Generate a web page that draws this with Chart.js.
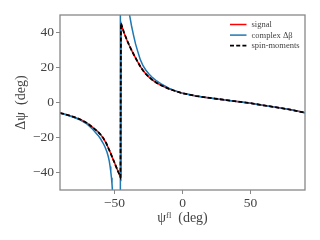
<!DOCTYPE html>
<html lang="en">
<head>
<meta charset="UTF-8">
<title>Delta psi</title>
<script src="https://cdn.jsdelivr.net/npm/chart.js"></script>
<style>
  html, body { margin: 0; padding: 0; background: #fff; }
  canvas { display: block; }
</style>
</head>
<body>
<canvas id="chart" width="320" height="240"></canvas>
<script>
// values (degrees)
const signalX = [-90, -85, -80, -75, -70, -66, -62, -60, -58, -56, -54.5, -53, -51.5, -50, -48.5, -47, -45.6,
    -45.2, -43, -41, -39, -37, -35, -33, -31, -29, -27, -25, -22, -19, -16, -13, -10, -7, -4, 0,
    10, 20, 30, 40, 50, 60, 70, 80, 90];
const signalY = [-6, -7, -8.2, -9.7, -11.8, -14.2, -16.8, -18.5, -20.6, -23.3, -26, -28.6, -31.5, -34.3, -37.2, -40, -42.6,
    45.3, 40, 36, 32.4, 29.2, 26.2, 23.3, 20.6, 18.3, 16.4, 14.8, 12.8, 11.2, 9.9, 8.8, 7.8, 7, 6.2, 5.3,
    3.7, 2.6, 1.6, 0.6, -0.4, -1.7, -2.9, -4.2, -5.8];
const momentsY = [-6, -7, -8.2, -9.7, -11.8, -14.2, -16.8, -18.5, -20.6, -23.3, -26, -28.6, -31.5, -34.3, -37.2, -40, -42.6,
    45.3, 40, 36, 32.4, 29.2, 26.2, 23.3, 20.6, 18.3, 16.4, 14.8, 12.8, 11.2, 9.9, 8.8, 7.8, 7, 6.2, 5.3,
    3.7, 2.6, 1.6, 0.6, -0.4, -1.7, -2.9, -4.2, -5.8];

// complex delta-beta: diverges near -45.7 (values beyond +-50 are off the plot)
const betaX = [-90, -85, -80, -75, -70, -66, -62, -60, -58.5, -57, -55.5, -54.5, -53.8, -53.2, -52.7, -52.2, -51.8, -51.5,
    -50.5, -49, -47.5, -46.5, -45.75, -45.65, -45, -44, -43, -42, -41, -40,
    -38.9, -37.5, -36, -34.5, -33, -31, -29, -27, -25, -22, -19, -16, -13, -10, -7, -4, 0,
    10, 20, 30, 40, 50, 60, 70, 80, 90];
const betaY = [-6, -7.1, -8.4, -10.1, -12.4, -15.3, -18.8, -21, -23, -25.3, -28.3, -31, -33.5, -36.5, -39.5, -43, -46.5, -50,
    -60, -86, -150, -300, -3000, 3000, 500, 190, 120, 90, 70, 58,
    50, 44, 38.5, 33.5, 29.5, 24.5, 21, 18.6, 16.6, 14.2, 12.3, 10.8, 9.5, 8.2, 7.2, 6.3, 5.3,
    3.7, 2.6, 1.6, 0.6, -0.4, -1.7, -2.9, -4.2, -5.8];

const xTicks = [-50, 0, 50];
const yTicks = [-40, -20, 0, 20, 40];
const labels = ['signal', 'complex \u0394\u03b2', 'spin-moments'];

const serif = '"Liberation Serif", "DejaVu Serif", serif';
const frameColor = '#888';
const textColor = '#444';

function pts(xs, ys) {
    return xs.map((x, i) => ({ x: x, y: ys[i] }));
}

// box round the plot area, like matplotlib spines
const framePlugin = {
    id: 'frame',
    afterDatasetsDraw(chart) {
        const a = chart.chartArea;
        const ctx = chart.ctx;
        ctx.save();
        ctx.strokeStyle = frameColor;
        ctx.lineWidth = 1.3;
        ctx.strokeRect(a.left, a.top, a.right - a.left, a.bottom - a.top);
        ctx.restore();
    }
};

// legend inside the upper right corner, one entry per row
const legendPlugin = {
    id: 'innerLegend',
    afterDraw(chart) {
        const ctx = chart.ctx;
        const a = chart.chartArea;
        const x0 = a.right - 75;
        ctx.save();
        ctx.font = '8.5px ' + serif;
        ctx.textBaseline = 'middle';
        chart.data.datasets.forEach((ds, i) => {
            const y = a.top + 9.5 + i * 10.6;
            ctx.strokeStyle = ds.borderColor;
            ctx.lineWidth = ds.borderWidth;
            ctx.setLineDash(ds.borderDash || []);
            ctx.beginPath();
            ctx.moveTo(x0, y);
            ctx.lineTo(x0 + 16.5, y);
            ctx.stroke();
            ctx.setLineDash([]);
            ctx.fillStyle = textColor;
            ctx.fillText(ds.label, x0 + 21.5, y + 0.5);
        });
        ctx.restore();
    }
};

const ctx = document.getElementById('chart').getContext('2d');
new Chart(ctx, {
    type: 'scatter',
    data: {
        datasets: [
            { label: labels[0], data: pts(signalX, signalY), borderColor: '#ff0000', borderWidth: 1.5, order: 2 },
            { label: labels[1], data: pts(betaX, betaY), borderColor: '#1f77b4', borderWidth: 1.5, order: 1 },
            { label: labels[2], data: pts(signalX, momentsY), borderColor: '#000000', borderWidth: 1.8, borderDash: [4, 2.2], order: 0 }
        ]
    },
    options: {
        responsive: false,
        animation: false,
        devicePixelRatio: 1,
        showLine: true,
        elements: { point: { radius: 0, hoverRadius: 0 }, line: { tension: 0 } },
        layout: { padding: { left: 0, right: 15, top: 15, bottom: 0 } },
        plugins: { legend: { display: false }, tooltip: { enabled: false } },
        scales: {
            x: {
                type: 'linear',
                min: -90,
                max: 90,
                afterFit: s => { s.height = 50; },
                afterBuildTicks: s => { s.ticks = xTicks.map(v => ({ value: v })); },
                grid: { drawOnChartArea: false, drawTicks: true, tickLength: 4, color: frameColor, lineWidth: 1 },
                border: { display: false },
                ticks: {
                    padding: 1,
                    color: textColor,
                    font: { family: serif, size: 13.5 },
                    callback: v => String(v).replace('-', '\u2212')
                },
                title: {
                    display: true,
                    text: '\u03c8\u1da0\u02e1  (deg)',
                    color: textColor,
                    font: { family: serif, size: 14 },
                    padding: { top: 0, bottom: 13.6 }
                }
            },
            y: {
                type: 'linear',
                min: -50,
                max: 50,
                afterFit: s => { s.width = 60; },
                afterBuildTicks: s => { s.ticks = yTicks.map(v => ({ value: v })); },
                grid: { drawOnChartArea: false, drawTicks: true, tickLength: 4, color: frameColor, lineWidth: 1 },
                border: { display: false },
                ticks: {
                    padding: 2,
                    color: textColor,
                    font: { family: serif, size: 13.5 },
                    callback: v => String(v).replace('-', '\u2212')
                },
                title: {
                    display: true,
                    text: '\u0394\u03c8  (deg)',
                    color: textColor,
                    font: { family: serif, size: 14 },
                    padding: { top: 12.6, bottom: 0 }
                }
            }
        }
    },
    plugins: [framePlugin, legendPlugin]
});
</script>
</body>
</html>
